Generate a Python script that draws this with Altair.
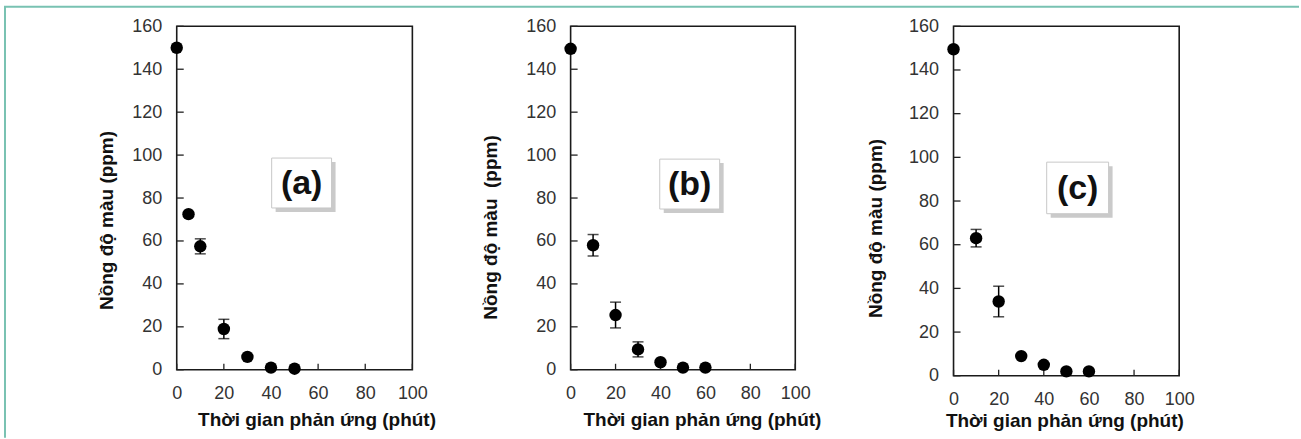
import altair as alt
import pandas as pd

# ---- data ----
t_a = [0, 5, 10, 20, 30, 40, 50]
c_a = [150, 72.5, 57.5, 19, 6, 1, 0.5]
e_a = [0, 0, 3.5, 4.5, 0, 0, 0]

t_b = [0, 10, 20, 30, 40, 50, 60]
c_b = [149.5, 58, 25.5, 9.5, 3.5, 1, 1]
e_b = [0, 5, 6, 3.5, 0, 0, 0]

t_c = [0, 10, 20, 30, 40, 50, 60]
c_c = [149.5, 63, 34, 9, 5, 2, 2]
e_c = [0, 4, 7, 0, 0, 0, 0]

panel_labels = ["(a)", "(b)", "(c)"]
label_t = [53, 53, 55]
label_c = [87, 86.5, 86]

x_ticks = [0, 20, 40, 60, 80, 100]
y_ticks = [0, 20, 40, 60, 80, 100, 120, 140, 160]

x_title = "Thời gian phản ứng (phút)"
y_titles = ["Nồng độ màu (ppm)", "Nồng độ màu \u00a0(ppm)", "Nồng độ màu (ppm)"]

FONT = "Liberation Sans"
BOX_PATH = "M-1,-0.833L1,-0.833L1,0.833L-1,0.833Z"


def panel(t, c, e, label, lt, lc, ytitle, w, h, xtx, xty, ytx, yty, box_w, frame=False):
    df = pd.DataFrame({"t": t, "c": c, "e": e})
    df["lo"] = df["c"] - df["e"]
    df["hi"] = df["c"] + df["e"]
    xs = alt.Scale(domain=[0, 100], nice=False)
    ys = alt.Scale(domain=[0, 160], nice=False)
    xax = alt.Axis(values=x_ticks, ticks=False, domain=False, grid=False,
                   labelPadding=15, labelFont=FONT, labelFontSize=18,
                   labelColor="#333", labelFlush=False,
                   title=x_title, titleFont=FONT, titleFontSize=19,
                   titleFontWeight="bold", titleColor="#111",
                   titleX=xtx, titleY=xty, titleAlign="center",
                   titleBaseline="top")
    yax = alt.Axis(values=y_ticks, ticks=False, domain=False, grid=False,
                   labelPadding=15, labelFont=FONT, labelFontSize=18,
                   labelColor="#333", labelFlush=False,
                   title=ytitle, titleFont=FONT, titleFontSize=19,
                   titleFontWeight="bold", titleColor="#111",
                   titleX=ytx, titleY=yty, titleAngle=270,
                   titleAlign="center", titleBaseline="bottom")

    def X(f="t"):
        return alt.X(f"{f}:Q", scale=xs, axis=xax, title=x_title)

    def Y(f="c"):
        return alt.Y(f"{f}:Q", scale=ys, axis=yax, title=ytitle)

    base = alt.Chart(df)
    errs = base.transform_filter("datum.e > 0")

    ytick_df = pd.DataFrame({"c": y_ticks})
    xtick_df = pd.DataFrame({"t": x_ticks})
    yt = alt.Chart(ytick_df).mark_rule(color="#222", strokeWidth=1.3).encode(
        y=Y(), x=alt.value(0), x2=alt.value(7))
    xt = alt.Chart(xtick_df).mark_rule(color="#222", strokeWidth=1.3).encode(
        x=X(), y=alt.value(h), y2=alt.value(h - 6))

    bars = errs.mark_rule(color="black", strokeWidth=1.5).encode(
        x=X(), y=Y("lo"), y2="hi:Q")
    cap_lo = errs.mark_tick(color="black", orient="horizontal", size=11,
                            thickness=1.5).encode(x=X(), y=Y("lo"))
    cap_hi = errs.mark_tick(color="black", orient="horizontal", size=11,
                            thickness=1.5).encode(x=X(), y=Y("hi"))
    pts = base.mark_point(filled=True, shape="circle", size=155, color="black",
                          opacity=1).encode(x=X(), y=Y())

    lab_df = pd.DataFrame({"t": [lt], "c": [lc], "label": [label]})
    lab = alt.Chart(lab_df)
    shadow = lab.mark_point(shape=BOX_PATH, size=box_w * box_w, filled=True,
                            color="#8a8a8a", opacity=0.45, xOffset=4,
                            yOffset=4).encode(x=X(), y=Y())
    box = lab.mark_point(shape=BOX_PATH, size=box_w * box_w, filled=True,
                         fill="white", stroke="#c8c8c8", strokeWidth=1,
                         opacity=1).encode(x=X(), y=Y())
    txt = lab.mark_text(font=FONT, fontSize=34, fontWeight="bold",
                        color="#111", baseline="middle", align="center",
                        dy=1).encode(x=X(), y=Y(), text="label:N")

    layers = [yt, xt, bars, cap_lo, cap_hi, pts, shadow, box, txt]
    if frame:
        one = alt.Chart(pd.DataFrame({"k": [0]}))
        fl = one.mark_rule(color="#79c2b2", strokeWidth=2).encode(
            x=alt.value(-172), y=alt.value(-20), y2=alt.value(412))
        ft = one.mark_rule(color="#79c2b2", strokeWidth=2).encode(
            x=alt.value(-173), x2=alt.value(1124), y=alt.value(-19.5))
        layers = [fl, ft] + layers
    return alt.layer(*layers).properties(width=w, height=h)


pa = panel(t_a, c_a, e_a, panel_labels[0], label_t[0], label_c[0], y_titles[0],
           236, 344, 140, 40.5, -60, 194, 60, frame=True)
pb = panel(t_b, c_b, e_b, panel_labels[1], label_t[1], label_c[1], y_titles[1],
           225, 344, 131.5, 40.5, -70.5, 201, 60)
pc = panel(t_c, c_c, e_c, panel_labels[2], label_t[2], label_c[2], y_titles[2],
           226, 350, 111, 35.5, -68.5, 202, 62)

chart = alt.hconcat(pa, pb, pc, spacing=158.5, bounds="flush").properties(
    padding={"left": 2, "top": 4, "right": 0, "bottom": 0},
    background="white",
).configure_view(stroke="#1a1a1a", strokeWidth=1.6)

chart.save("out.html", embed_options={"renderer": "svg", "actions": False})
